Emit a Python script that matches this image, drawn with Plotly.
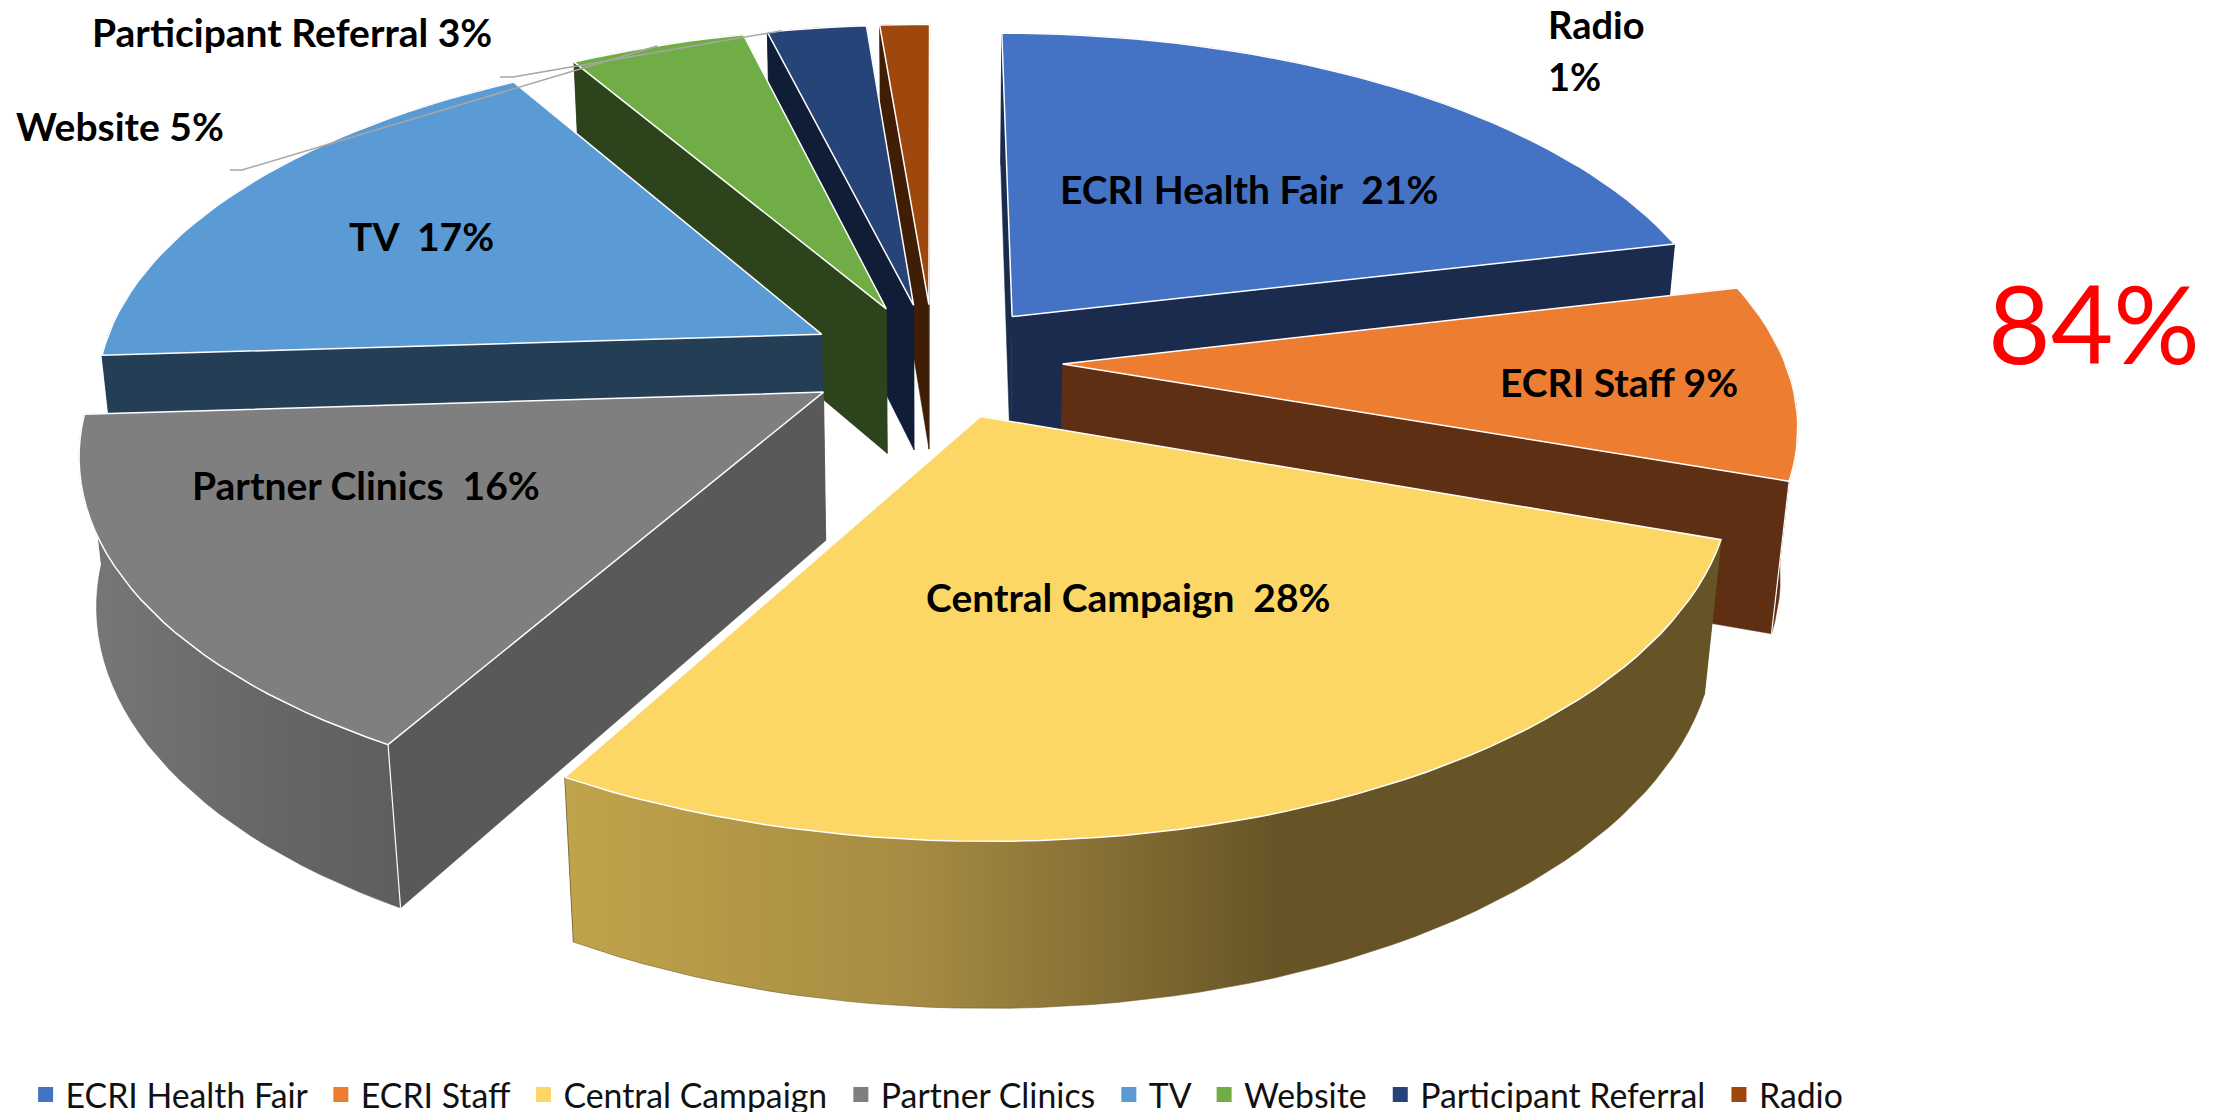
import math
import plotly.graph_objects as go

# ---- data ----
categories = ["ECRI Health Fair", "ECRI Staff", "Central Campaign", "Partner Clinics",
              "TV", "Website", "Participant Referral", "Radio"]
values = [21.3, 9, 27.9, 15.8, 17.49, 4.61, 2.6, 1.3]
top_colors = ["#4472C4", "#ED7D31", "#FCD765", "#7F7F7F", "#5B9BD5", "#70AD47", "#264478", "#9E480E"]
side_colors = ["#1A2B4E", "#5F2F14", "#665427", "#595959", "#243F55", "#2C431B", "#0F1D36", "#401E06"]
headline = "84%"

# ---- projection of the tilted, exploded pie on a 2225x1112 pixel axis ----
CX, CY = 934, 361
W, B, H = 722, 340, 150
A, C = 0.155, 0.02
EXPLODE_X, EXPLODE_Y = 0.178, 0.17
DRAW_ORDER = [7, 6, 5, 4, 0, 1, 3, 2]


def project(x, y, z):
    d = 1 + A * y + C * z
    return CX + W * x / d, CY + (-B * y + H * z) / d


total = sum(values)
starts = []
acc = 0
for v in values:
    starts.append(acc / total * 2 * math.pi)
    acc += v


def slice_geo(i):
    a0 = starts[i]
    a1 = a0 + values[i] / total * 2 * math.pi
    m = (a0 + a1) / 2
    ex, ey = EXPLODE_X * math.sin(m), EXPLODE_Y * math.cos(m)
    n = max(3, int(values[i] * 2))
    angs = [a0 + (a1 - a0) * k / n for k in range(n + 1)]
    arc = [(ex + math.sin(a), ey + math.cos(a)) for a in angs]
    return (ex, ey), arc, m, a0, a1


def poly(pts, color, line="white", width=0.0, **kw):
    xs = [p[0] for p in pts] + [pts[0][0]]
    ys = [p[1] for p in pts] + [pts[0][1]]
    return go.Scatter(x=xs, y=ys, mode="lines", fill="toself", fillcolor=color,
                      line=dict(color=line if width else color, width=width if width else 0.5),
                      hoverinfo="skip", showlegend=False, **kw)


fig = go.Figure()
WALL_GRAD = {
    2: [[0, "#C0A34B"], [0.3, "#A68C42"], [0.62, "#665427"], [1, "#665427"]],
    3: [[0, "#787878"], [0.6, "#666666"], [1, "#5E5E5E"]],
}

for i in DRAW_ORDER:
    (ax, ay), arc, m, _, _ = slice_geo(i)
    top = [project(ax, ay, 0)] + [project(x, y, 0) for x, y in arc]
    arc_t = [project(x, y, 0) for x, y in arc]
    arc_b = [project(x, y, 1) for x, y in arc]
    ap_t, ap_b = project(ax, ay, 0), project(ax, ay, 1)
    wall = arc_t + arc_b[::-1]
    face_s = [ap_t, arc_t[0], arc_b[0], ap_b]
    face_e = [ap_t, arc_t[-1], arc_b[-1], ap_b]

    kw = {}
    if i in WALL_GRAD:
        kw["fillgradient"] = dict(type="horizontal", colorscale=WALL_GRAD[i])
    wall_tr = poly(wall, side_colors[i], **kw)
    faces = [poly(face_e, side_colors[i]), poly(face_s, side_colors[i])]
    if math.cos(m) < -0.5:
        order = faces + [wall_tr]
    else:
        order = [wall_tr] + faces
    for tr in order:
        fig.add_trace(tr)
    # vertical white edge at the visible corners
    edge_idx = {3: 0, 1: -1}
    if i in edge_idx:
        k = edge_idx[i]
        fig.add_trace(go.Scatter(x=[arc_t[k][0], arc_b[k][0]], y=[arc_t[k][1], arc_b[k][1]], mode="lines",
                                 line=dict(color="white", width=1.2), hoverinfo="skip", showlegend=False))
    fig.add_trace(poly(top, top_colors[i], width=1.5))


def arc_point(i, frac):
    (ax, ay), _, _, a0, a1 = slice_geo(i)
    a = a0 + (a1 - a0) * frac
    return project(ax + math.sin(a), ay + math.cos(a), 0)


# leader lines
website_end = arc_point(5, 0.5)
referral_end = arc_point(6, 0.15)
for xs, ys in [([230, 242, website_end[0]], [170, 170, website_end[1]]),
               ([500, 513, referral_end[0]], [77, 77, referral_end[1]])]:
    fig.add_trace(go.Scatter(x=xs, y=ys, mode="lines", line=dict(color="#A6A6A6", width=1.5),
                             hoverinfo="skip", showlegend=False))

# legend entries
for name, col in zip(categories, top_colors):
    fig.add_trace(go.Scatter(x=[None], y=[None], mode="markers", name=name + "\u00a0",
                             marker=dict(symbol="square", size=15, color=col), hoverinfo="skip"))

FONT = "Lato, Carlito, sans-serif"
label_pos = [(1249, 189), (1619, 382), (1128, 597), (366, 485), (421, 236), (120, 126), (292, 32)]
gaps = ["\u00a0\u00a0", " ", "\u00a0\u00a0", "\u00a0\u00a0", "\u00a0\u00a0", " ", " "]
for i, (px, py) in enumerate(label_pos):
    fig.add_annotation(x=px, y=py, text=f"<b>{categories[i]}{gaps[i]}{round(values[i])}%</b>", showarrow=False,
                       font=dict(family=FONT, size=39, color="black"), xanchor="center", yanchor="middle")
fig.add_annotation(x=1546, y=24, text=f"<b>{categories[7]}</b>", showarrow=False, xanchor="left", yanchor="middle",
                   font=dict(family=FONT, size=38, color="black"))
fig.add_annotation(x=1546, y=76, text=f"<b>{round(values[7])}%</b>", showarrow=False, xanchor="left", yanchor="middle",
                   font=dict(family=FONT, size=38, color="black"))
fig.add_annotation(x=2094, y=322, text=headline, showarrow=False, xanchor="center", yanchor="middle",
                   font=dict(family=FONT, size=108, color="#FF0000"))

# The page is taller than the window by EXTRA pixels (hidden by overflow) so the legend may sit low.
EXTRA = 18
fig.update_layout(
    width=2225, height=1112 + EXTRA, margin=dict(l=0, r=0, t=0, b=EXTRA),
    paper_bgcolor="white", plot_bgcolor="white",
    xaxis=dict(range=[0, 2225], visible=False, fixedrange=True),
    yaxis=dict(range=[1112, 0], visible=False, fixedrange=True),
    showlegend=True,
    legend=dict(orientation="h", x=0.0115, y=-0.0099, xanchor="left", yanchor="bottom",
                font=dict(family=FONT, size=33.8, color="#111111"), bgcolor="rgba(0,0,0,0)",
                itemwidth=30, traceorder="normal", itemclick=False, itemdoubleclick=False),
)
fig.write_html("out.html", config=dict(displayModeBar=False),
               post_script="document.body.style.margin='0';document.body.style.overflow='hidden';")
